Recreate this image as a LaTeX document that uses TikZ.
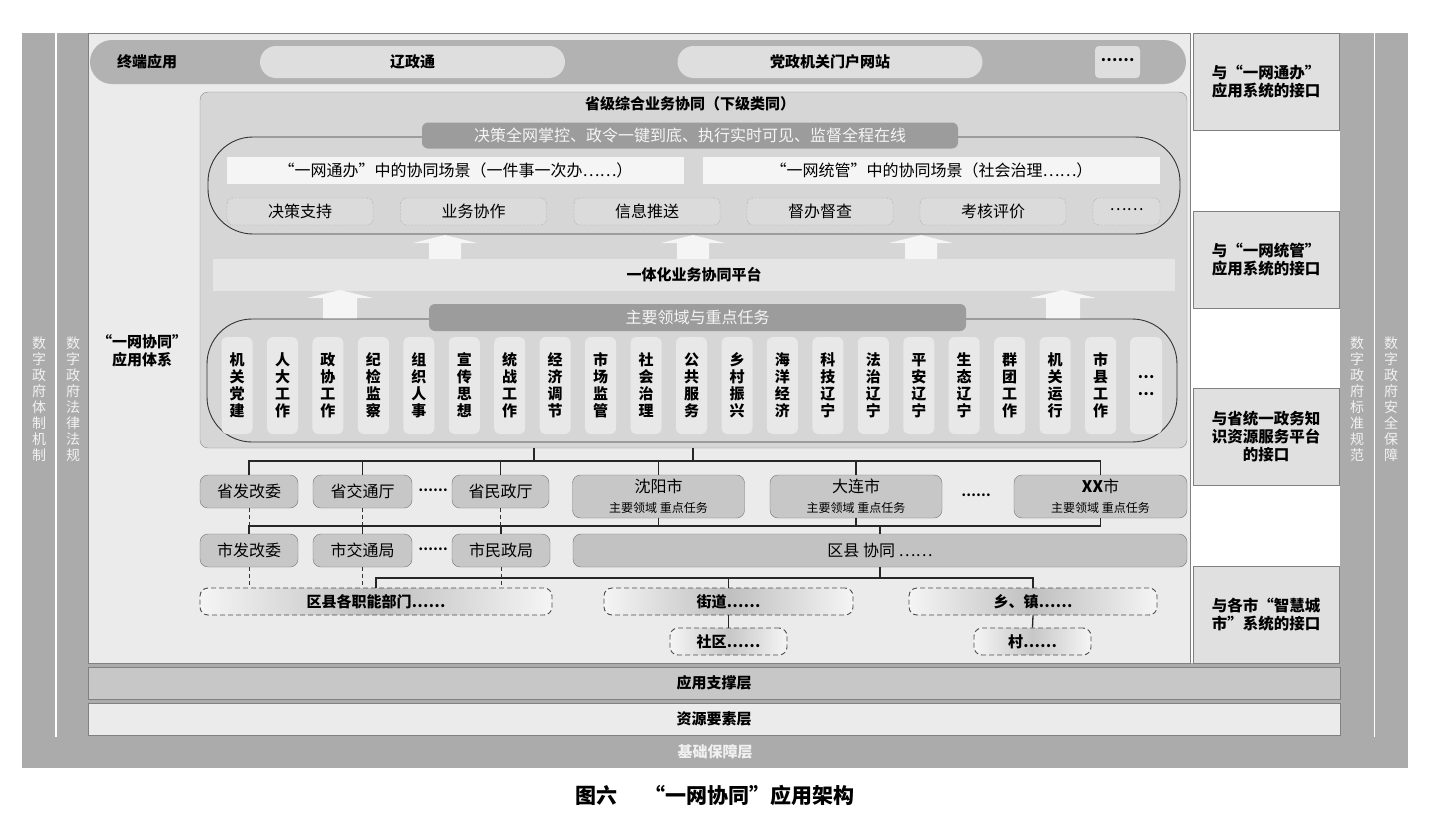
\documentclass[tikz,border=0pt]{standalone}
\usepackage{fontspec}
\setmainfont{Noto Sans CJK SC}

\begin{document}
\begin{tikzpicture}[x=1pt,y=-1pt,
    every node/.style={inner sep=0pt, font=\fontsize{16}{19}\selectfont},
    portbox/.style={draw=black!50, fill=black!12, minimum width=146, minimum height=97, align=center, font=\fontsize{15.5}{18}\selectfont\bfseries},
    layerbox/.style={draw=black!50, minimum width=1252, minimum height=32, font=\fontsize{15}{18}\selectfont\bfseries},
    sidetext/.style={align=center, text=black!5, font=\fontsize{14}{16}\selectfont},
    pillbox/.style={rounded corners=16pt, fill=black!13, minimum width=305, minimum height=32, font=\fontsize{15}{18}\selectfont\bfseries},
    tabbox/.style={rounded corners=6pt, fill=black!39, text=black!4, minimum height=26},
    ringbox/.style={draw=black!80, line width=0.9pt, rounded corners=45pt},
    scenebox/.style={fill=black!4, minimum width=457, minimum height=27},
    funcbox/.style={draw=black!45, densely dotted, rounded corners=6pt, fill=black!14, minimum width=146, minimum height=27},
    upfill/.style={fill=black!4},
    taskbox/.style={rounded corners=6pt, fill=black!9, minimum width=31, minimum height=97, align=center, font=\fontsize{15}{17}\selectfont\bfseries},
    deptbox/.style={draw=black!55, rounded corners=8pt, fill=black!22, minimum height=33},
    citybox/.style={deptbox, minimum width=172, minimum height=43, align=center},
    grassbox/.style={draw=black!70, line width=0.9pt, dash pattern=on 5pt off 3pt, rounded corners=8pt, left color=black!4, right color=black!4, middle color=black!25, minimum height=27, font=\fontsize{15}{18}\selectfont\bfseries},
    linkline/.style={line width=1.3pt, black!85},
    dashline/.style={line width=0.9pt, black!80, dash pattern=on 4pt off 3pt}
  ]
  \useasboundingbox (0,0) rectangle (1430,827);
  \fill[white] (0,0) rectangle (1430,827);
  \fill[black!33] (22,33) rectangle (1408,768);
  \draw[white, line width=1.8pt] (56,33) -- (56,737);
  \draw[white, line width=1.8pt] (1374.5,33) -- (1374.5,737);
  \draw[draw=black!50, fill=black!8] (88,33) rectangle (1190,663);
  \fill[white] (1190.5,33) rectangle (1340,663);

  \node[portbox] (port1) at (1266,81.5) {与“一网通办”\\应用系统的接口};
  \node[portbox] (port2) at (1266,259.5) {与“一网统管”\\应用系统的接口};
  \node[portbox] (port3) at (1266,437) {与省统一政务知\\识资源服务平台\\的接口};
  \node[portbox] (port4) at (1266,614.5) {与各市“智慧城\\市”系统的接口};

  \node[layerbox, fill=black!22] (support) at (714,683) {应用支撑层};
  \node[layerbox, fill=black!8] (resource) at (714,719) {资源要素层};
  \node[font=\fontsize{15}{18}\selectfont\bfseries, text=black!6] (basic) at (715,752) {基础保障层};

  \node[sidetext] (tizhi) at (39,399) {数\\字\\政\\府\\体\\制\\机\\制};
  \node[sidetext] (fagui) at (73,399) {数\\字\\政\\府\\法\\律\\法\\规};
  \node[sidetext] (biaozhun) at (1357,399) {数\\字\\政\\府\\标\\准\\规\\范};
  \node[sidetext] (anquan) at (1391,399) {数\\字\\政\\府\\安\\全\\保\\障};

  \node[rounded corners=22pt, fill=black!30, minimum width=1096, minimum height=44] (term) at (638,62) {};
  \node[font=\fontsize{15}{18}\selectfont\bfseries] (termlabel) at (147,62) {终端应用};
  \node[pillbox] (lzt) at (412.5,62) {辽政通};
  \node[pillbox] (portal) at (830,62) {党政机关门户网站};
  \node[pillbox, rounded corners=4pt, minimum width=45] (termmore) at (1117.5,62) {\raisebox{0.25em}{……}};

  \node[align=center, font=\fontsize{15}{18}\selectfont\bfseries] (system) at (142,351) {“一网协同”\\应用体系};

  \node[draw=black!45, fill=black!16, rounded corners=8pt, minimum width=987, minimum height=356] (prov) at (693.5,270) {};
  \node[font=\fontsize{15}{18}\selectfont\bfseries] (provtitle) at (690,104) {省级综合业务协同（下级类同）};

  \node[ringbox, minimum width=972, minimum height=97] (ring1) at (694,185.5) {};
  \node[tabbox, minimum width=536] (goal) at (690,135.5) {决策全网掌控、政令一键到底、执行实时可见、监督全程在线};
  \node[scenebox] (scene1) at (455.5,170.5) {“一网通办”中的协同场景（一件事一次办……）};
  \node[scenebox] (scene2) at (931.5,170.5) {“一网统管”中的协同场景（社会治理……）};
  \node[funcbox] (func1) at (300,211.5) {决策支持};
  \node[funcbox] (func2) at (473.5,211.5) {业务协作};
  \node[funcbox] (func3) at (647,211.5) {信息推送};
  \node[funcbox] (func4) at (820,211.5) {督办督查};
  \node[funcbox] (func5) at (993,211.5) {考核评价};
  \node[funcbox, minimum width=67] (func6) at (1126.5,211.5) {\raisebox{0.25em}{……}};

  \fill[upfill] (445,235) -- ++(32,8) -- ++(-16,0) -- ++(0,16) -- ++(-32,0) -- ++(0,-16) -- ++(-16,0) -- cycle;
  \fill[upfill] (693,235) -- ++(32,8) -- ++(-16,0) -- ++(0,16) -- ++(-32,0) -- ++(0,-16) -- ++(-16,0) -- cycle;
  \fill[upfill] (921,235) -- ++(32,8) -- ++(-16,0) -- ++(0,16) -- ++(-32,0) -- ++(0,-16) -- ++(-16,0) -- cycle;
  \node[fill=black!10, minimum width=962, minimum height=32, font=\fontsize{15}{18}\selectfont\bfseries] (platform) at (694,275) {一体化业务协同平台};
  \fill[upfill] (340,290) -- ++(33,8) -- ++(-16,0) -- ++(0,21) -- ++(-34,0) -- ++(0,-21) -- ++(-16,0) -- cycle;
  \fill[upfill] (1063,290) -- ++(33,8) -- ++(-16,0) -- ++(0,21) -- ++(-34,0) -- ++(0,-21) -- ++(-16,0) -- cycle;

  \node[ringbox, minimum width=970, minimum height=123] (ring2) at (692,380.5) {};
  \node[tabbox, minimum width=537, minimum height=27] (field) at (697.5,317.5) {主要领域与重点任务};
  \node[taskbox] (task1) at (237,385.5) {机\\关\\党\\建};
  \node[taskbox] (task2) at (282.5,385.5) {人\\大\\工\\作};
  \node[taskbox] (task3) at (327.9,385.5) {政\\协\\工\\作};
  \node[taskbox] (task4) at (373.4,385.5) {纪\\检\\监\\察};
  \node[taskbox] (task5) at (418.8,385.5) {组\\织\\人\\事};
  \node[taskbox] (task6) at (464.3,385.5) {宣\\传\\思\\想};
  \node[taskbox] (task7) at (509.7,385.5) {统\\战\\工\\作};
  \node[taskbox] (task8) at (555.2,385.5) {经\\济\\调\\节};
  \node[taskbox] (task9) at (600.6,385.5) {市\\场\\监\\管};
  \node[taskbox] (task10) at (646.1,385.5) {社\\会\\治\\理};
  \node[taskbox] (task11) at (691.5,385.5) {公\\共\\服\\务};
  \node[taskbox] (task12) at (737,385.5) {乡\\村\\振\\兴};
  \node[taskbox] (task13) at (782.4,385.5) {海\\洋\\经\\济};
  \node[taskbox] (task14) at (827.9,385.5) {科\\技\\辽\\宁};
  \node[taskbox] (task15) at (873.3,385.5) {法\\治\\辽\\宁};
  \node[taskbox] (task16) at (918.8,385.5) {平\\安\\辽\\宁};
  \node[taskbox] (task17) at (964.2,385.5) {生\\态\\辽\\宁};
  \node[taskbox] (task18) at (1009.7,385.5) {群\\团\\工\\作};
  \node[taskbox] (task19) at (1055.1,385.5) {机\\关\\运\\行};
  \node[taskbox] (task20) at (1100.6,385.5) {市\\县\\工\\作};
  \node[taskbox, minimum width=32] (task21) at (1146,385.5) {…\\…};

  \node[deptbox, minimum width=98] (sfgw) at (249,491.5) {省发改委};
  \node[deptbox, minimum width=99] (sjtt) at (362.5,491.5) {省交通厅};
  \node[font=\fontsize{13}{16}\selectfont\bfseries] (dots1) at (433,491.5) {\raisebox{0.25em}{……}};
  \node[deptbox, minimum width=97] (smzt) at (500.5,491.5) {省民政厅};
  \node[citybox] (shenyang) at (658.5,496.5) {沈阳市\\[1pt]{\fontsize{12}{14}\selectfont 主要领域\ 重点任务}};
  \node[citybox] (dalian) at (856,496.5) {大连市\\[1pt]{\fontsize{12}{14}\selectfont 主要领域\ 重点任务}};
  \node[font=\fontsize{13}{16}\selectfont\bfseries] (dots2) at (976,496.5) {\raisebox{0.25em}{……}};
  \node[citybox, minimum width=173] (xx) at (1100.5,496.5) {{\bfseries XX}市\\[1pt]{\fontsize{12}{14}\selectfont 主要领域\ 重点任务}};

  \node[deptbox, minimum width=98] (sfgw2) at (249,550.5) {市发改委};
  \node[deptbox, minimum width=99] (sjtj) at (362.5,550.5) {市交通局};
  \node[font=\fontsize{13}{16}\selectfont\bfseries] (dots3) at (433,550.5) {\raisebox{0.25em}{……}};
  \node[deptbox, minimum width=98] (smzj) at (501,550.5) {市民政局};
  \node[deptbox, fill=black!24, minimum width=614] (quxian) at (880,550.5) {区县\ 协同\ ……};

  \node[grassbox, minimum width=352] (bumen) at (376,601.5) {区县各职能部门……};
  \node[grassbox, minimum width=249] (jiedao) at (728.5,601.5) {街道……};
  \node[grassbox, minimum width=248] (xiangzhen) at (1033,601.5) {乡、镇……};
  \node[grassbox, minimum width=117, middle color=black!22] (shequ) at (728.5,641.5) {社区……};
  \node[grassbox, minimum width=117, middle color=black!22] (cun) at (1032.5,641.5) {村……};

  \coordinate (j1) at (534,461);
  \coordinate (j2) at (693,461);
  \coordinate (j3) at (880,526);
  \coordinate (j4) at (880,578);
  \draw[linkline] (j1 |- prov.south) -- (j1);
  \draw[linkline] (j2 |- prov.south) -- (j2);
  \draw[linkline] (sfgw.north) |- (j1) -| (xx.north);
  \draw[linkline] (sjtt.north) -- (sjtt.north |- j1);
  \draw[linkline] (smzt.north) -- (smzt.north |- j1);
  \draw[linkline] (shenyang.north) -- (shenyang.north |- j1);
  \draw[linkline] (dalian.north) -- (dalian.north |- j1);
  \draw[dashline] (sfgw.south) -- (sfgw.south |- j3);
  \draw[dashline] (sjtt.south) -- (sjtt.south |- j3);
  \draw[dashline] (smzt.south) -- (smzt.south |- j3);
  \draw[linkline] (sfgw2.north) |- (j3) -| (xx.south);
  \draw[linkline] (sjtj.north) -- (sjtj.north |- j3);
  \draw[linkline] (smzj.north) -- (smzj.north |- j3);
  \draw[linkline] (shenyang.south) -- (shenyang.south |- j3);
  \draw[linkline] (dalian.south) -- (dalian.south |- j3);
  \draw[linkline] (quxian.north) -- (j3);
  \draw[linkline] (quxian.south) -- (j4);
  \draw[linkline] (bumen.north) |- (j4) -| (xiangzhen.north);
  \draw[linkline] (jiedao.north) -- (jiedao.north |- j4);
  \draw[dashline] (sfgw2.south) -- (sfgw2.south |- bumen.north);
  \draw[dashline] (sjtj.south) -- (sjtj.south |- bumen.north);
  \draw[dashline] (smzj.south) -- (smzj.south |- bumen.north);
  \draw[linkline] (jiedao.south) -- (shequ.north);
  \draw[linkline] (xiangzhen.south) -- (cun.north);

  \node[font=\fontsize{21}{24}\selectfont\bfseries] (caption) at (715,795) {图六\hspace{1.3em}“一网协同”应用架构};
\end{tikzpicture}
\end{document}
